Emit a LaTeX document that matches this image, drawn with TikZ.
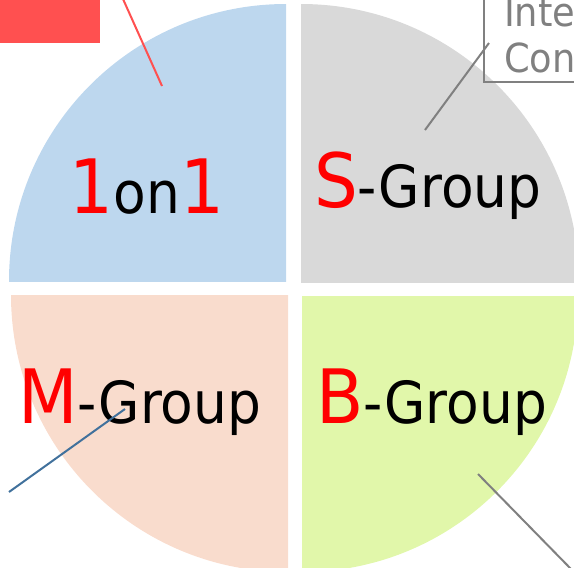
\documentclass[tikz,border=0pt]{standalone}
\usepackage{fontspec}
\setmainfont{DejaVu Sans}[FakeStretch=0.92]
\newcommand\BigTxt{\fontsize{75}{80}\selectfont}
\newcommand\SmTxt{\fontsize{58}{62}\selectfont}
\newcommand\BoxTxt{\fontsize{40}{46}\selectfont}
\definecolor{qblue}{RGB}{189,215,238}
\definecolor{qgray}{RGB}{217,217,217}
\definecolor{qpeach}{RGB}{249,220,205}
\definecolor{qgreen}{RGB}{225,247,170}
\definecolor{redbox}{RGB}{255,80,80}
\definecolor{steel}{RGB}{65,113,156}
\definecolor{lgray}{RGB}{128,128,128}
\tikzset{
  lbl/.style={anchor=base west, inner sep=0pt, outer sep=0pt},
  leader/.style={line width=2pt}
}
\begin{document}
\begin{tikzpicture}[x=1pt,y=-1pt]
\useasboundingbox (0,0) rectangle (574,568);
\clip (0,0) rectangle (574,568);
% quarters
\begin{scope}\clip (0,0) rectangle (286,281);
 \fill[qblue] (286,281) circle[radius=277pt];\end{scope}
\begin{scope}\clip (301,0) rectangle (600,282);
 \fill[qgray] (301,282) circle[radius=278pt];\end{scope}
\begin{scope}\clip (0,295) rectangle (288,600);
 \fill[qpeach] (288,295) circle[radius=277pt];\end{scope}
\begin{scope}\clip (302,296) rectangle (600,600);
 \fill[qgreen] (302,296) circle[radius=276pt];\end{scope}
% red box
\fill[redbox] (0,0) rectangle (100,43);
% gray box
\draw[lgray, line width=2pt] (484,-10) rectangle (600,82);
\node[lbl, text=lgray] (inte) at (504,26) {\BoxTxt Inte};
\node[lbl, text=lgray] (con) at (504,72) {\BoxTxt Con};
% labels
\node[lbl] (oneonone) at (70,213) {{\BigTxt\color{red}1}{\SmTxt on}{\BigTxt\color{red}1}};
\node[lbl] (sgroup) at (314,207) {{\BigTxt\color{red}S}{\SmTxt -Group}};
\node[lbl] (mgroup) at (18,423) {{\BigTxt\color{red}M}{\SmTxt -Group}};
\node[lbl] (bgroup) at (316,423) {{\BigTxt\color{red}B}{\SmTxt -Group}};
% leader lines
\coordinate (r1) at (123,-1); \coordinate (r2) at (162,86);
\draw[leader, redbox] (r1) -- (r2);
\coordinate (g1) at (425,130); \coordinate (g2) at (489,43);
\draw[leader, lgray] (g1) -- (g2);
\coordinate (b1) at (9,492); \coordinate (b2) at (125,409);
\draw[leader, steel] (b1) -- (b2);
\coordinate (h1) at (478,474); \coordinate (h2) at (572,570);
\draw[leader, lgray] (h1) -- (h2);
\end{tikzpicture}
\end{document}
